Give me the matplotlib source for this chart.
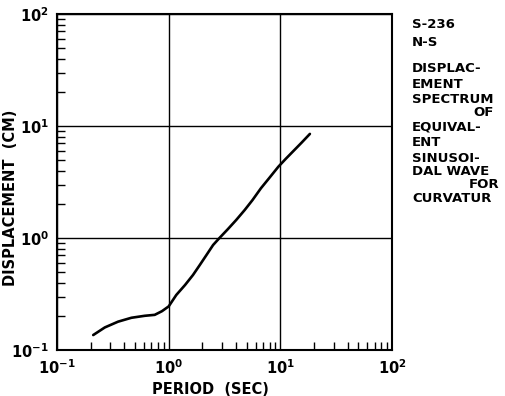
import matplotlib
matplotlib.use("Agg")
import matplotlib.pyplot as plt
from matplotlib.ticker import LogLocator, FixedLocator, FixedFormatter, NullFormatter

# curve (period in sec, displacement in cm)
period = [0.211, 0.268, 0.352, 0.464, 0.61, 0.75, 0.87, 1.0, 1.17, 1.4,
          1.65, 1.9, 2.17, 2.5, 2.85, 3.39, 4.03, 4.8, 5.63, 6.7, 7.99,
          9.6, 11.2, 12.9, 15.5, 18.4]
displacement = [0.136, 0.159, 0.179, 0.194, 0.202, 0.206, 0.222, 0.245,
                0.31, 0.38, 0.467, 0.574, 0.70, 0.866, 1.0, 1.2, 1.45,
                1.78, 2.18, 2.78, 3.45, 4.33, 5.1, 5.89, 7.1, 8.5]

decades = [0.1, 1, 10, 100]
decade_labels = [r"$\mathbf{10^{-1}}$", r"$\mathbf{10^{0}}$",
                 r"$\mathbf{10^{1}}$", r"$\mathbf{10^{2}}$"]

side_lines = ["S-236", "N-S", "DISPLAC-", "EMENT", "SPECTRUM", "OF",
              "EQUIVAL-", "ENT", "SINUSOI-", "DAL WAVE", "FOR", "CURVATUR"]

# layout of the side block: vertical centres (px from top) and alignment
side_y = [24, 42.5, 69, 84.5, 99.5, 112.5, 127.5, 142.5, 158, 171.5, 185, 199]
side_centered = {"OF", "FOR"}

plt.rcParams["font.family"] = ["DejaVu Sans"]
plt.rcParams["font.weight"] = "bold"

fig = plt.figure(figsize=(5.05, 3.96), dpi=100)
ax = fig.add_axes([57 / 505, 46 / 396, 335 / 505, 336 / 396])

ax.plot(period, displacement, color="black", lw=1.9,
        solid_capstyle="round", solid_joinstyle="round")

ax.set_xscale("log")
ax.set_yscale("log")
ax.set_xlim(0.1, 100)
ax.set_ylim(0.1, 100)

for axis in (ax.xaxis, ax.yaxis):
    axis.set_major_locator(FixedLocator(decades))
    axis.set_major_formatter(FixedFormatter(decade_labels))
    axis.set_minor_locator(LogLocator(base=10, subs=range(2, 10)))
    axis.set_minor_formatter(NullFormatter())

ax.tick_params(which="major", length=0, pad=6, labelsize=10.5)
ax.tick_params(which="minor", direction="in", length=6, width=1,
               top=False, right=False)
ax.grid(True, which="major", color="black", lw=1.0)
for s in ax.spines.values():
    s.set_linewidth(1.5)

ax.set_xlabel("PERIOD  (SEC)", fontsize=10.5, fontweight="bold")
ax.xaxis.set_label_coords(0.457, -0.095)
ax.set_ylabel("DISPLACEMENT  (CM)", fontsize=10.5, fontweight="bold")
ax.yaxis.set_label_coords(-0.116, 0.452)

# description block on the right
for txt, yc in zip(side_lines, side_y):
    if txt in side_centered:
        fig.text(484 / 505, 1 - yc / 396, txt, ha="center", va="center",
                 fontsize=9.5, fontweight="bold")
    else:
        fig.text(412 / 505, 1 - yc / 396, txt, ha="left", va="center",
                 fontsize=9.5, fontweight="bold")

fig.savefig("out.png", dpi=100)
